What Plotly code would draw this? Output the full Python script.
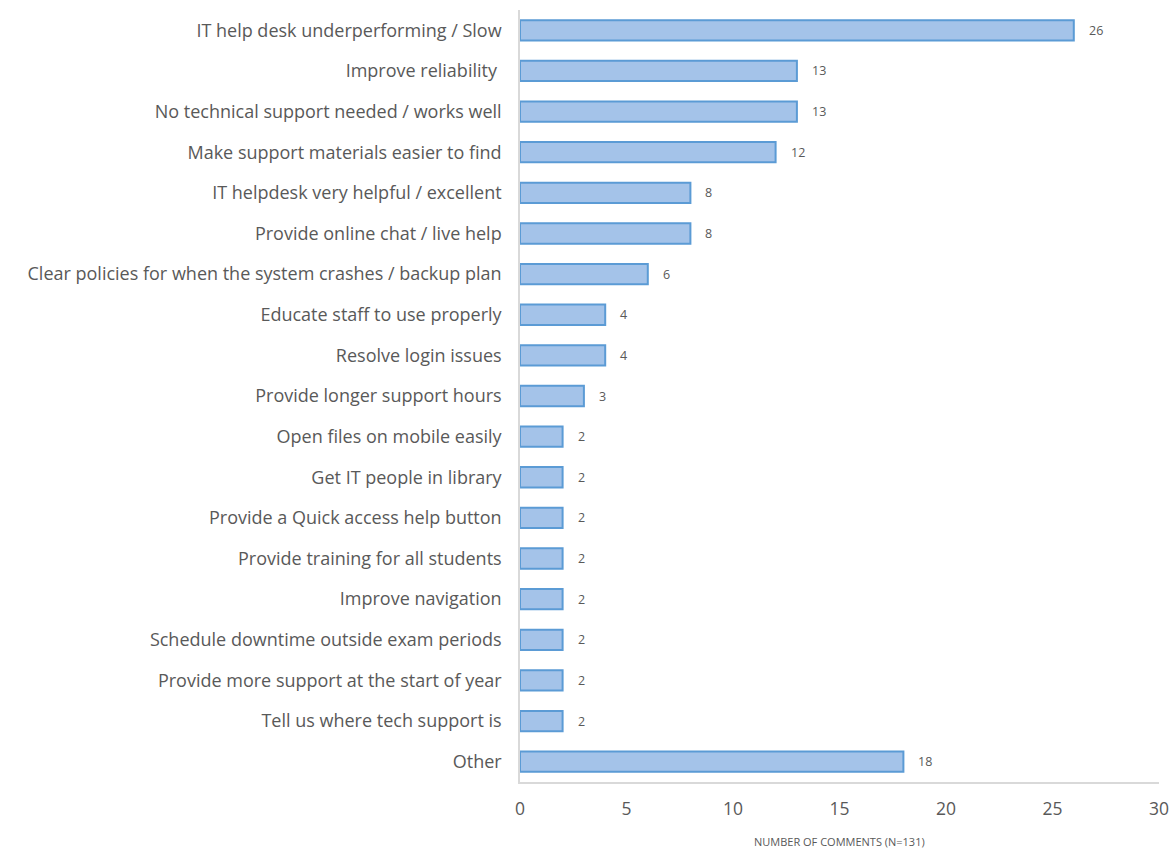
import plotly.graph_objects as go

categories = [
    "IT help desk underperforming / Slow",
    "Improve reliability ",
    "No technical support needed / works well",
    "Make support materials easier to find",
    "IT helpdesk very helpful / excellent",
    "Provide online chat / live help",
    "Clear policies for when the system crashes / backup plan",
    "Educate staff to use properly",
    "Resolve login issues",
    "Provide longer support hours",
    "Open files on mobile easily",
    "Get IT people in library",
    "Provide a Quick access help button",
    "Provide training for all students",
    "Improve navigation",
    "Schedule downtime outside exam periods",
    "Provide more support at the start of year",
    "Tell us where tech support is",
    "Other",
]
comments = [26, 13, 13, 12, 8, 8, 6, 4, 4, 3, 2, 2, 2, 2, 2, 2, 2, 2, 18]
x_ticks = [0, 5, 10, 15, 20, 25, 30]
x_title = "NUMBER OF COMMENTS (N=131)"

FONT = "'Open Sans', Lato, sans-serif"

fig = go.Figure(
    go.Bar(
        x=comments,
        y=categories,
        orientation="h",
        width=0.5,
        marker=dict(color="#a4c3e9", line=dict(color="#5b9bd5", width=2)),
        hoverinfo="x+y",
    )
)

# value labels to the right of each bar
for cat, val in zip(categories, comments):
    fig.add_annotation(
        x=val, y=cat, text=str(val), showarrow=False,
        xanchor="left", xshift=13,
        font=dict(family=FONT, size=12.5, color="#595959"),
    )

# axis title placed under the tick labels
fig.add_annotation(
    x=0.5, y=0, xref="paper", yref="paper", yshift=-59,
    text=x_title, showarrow=False, xanchor="center", yanchor="middle",
    font=dict(family=FONT, size=11, color="#595959"),
)

fig.update_layout(
    width=1173, height=849,
    margin=dict(l=520, r=14, t=10, b=67, autoexpand=False),
    paper_bgcolor="white", plot_bgcolor="white",
    showlegend=False,
    bargap=0.5,
    xaxis=dict(
        range=[0, 30], tickvals=x_ticks, showgrid=False, zeroline=False,
        showline=True, linecolor="#d9d9d9", linewidth=1.5,
        tickfont=dict(family=FONT, size=17.5, color="#595959"),
        ticks="", ticklabelstandoff=10, automargin=False,
    ),
    yaxis=dict(
        autorange="reversed", showgrid=False, zeroline=False,
        showline=True, linecolor="#d9d9d9", linewidth=1.5,
        tickfont=dict(family=FONT, size=18, color="#595959"),
        ticks="", ticklabelstandoff=13, automargin=False,
    ),
)

fig.write_html("out.html")
